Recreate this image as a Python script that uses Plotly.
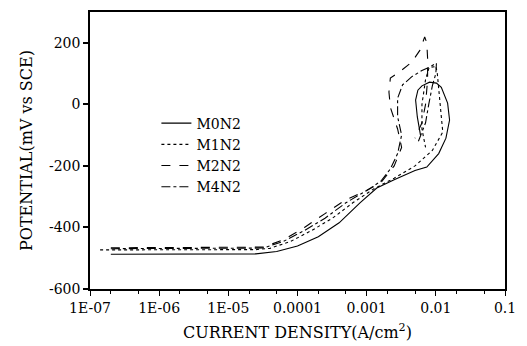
import plotly.graph_objects as go

# Potentiodynamic polarization curves (forward scan then reverse scan)
m0n2_current = [2.0e-7, 1.0e-6, 1.0e-5, 2.5e-5, 5.0e-5, 1.0e-4, 2.0e-4, 4.0e-4, 8.0e-4,
                1.4e-3, 2.5e-3, 5.0e-3, 7.4e-3, 1.1e-2, 1.4e-2, 1.58e-2, 1.48e-2,
                1.2e-2, 1.02e-2, 8.1e-3, 6.3e-3, 5.5e-3, 5.1e-3, 5.4e-3, 6.0e-3]
m0n2_potential = [-487, -487, -487, -486, -478, -460, -430, -385, -320,
                  -272, -245, -215, -204, -160, -110, -51, 4,
                  55, 69, 72, 60, 46, 14, -41, -100]

m1n2_current = [1.4e-7, 1.0e-6, 1.0e-5, 2.5e-5, 4.0e-5, 8.0e-5, 1.6e-4, 3.2e-4, 6.3e-4,
                1.26e-3, 2.5e-3, 5.0e-3, 8.9e-3, 1.26e-2, 1.2e-2, 1.12e-2, 1.05e-2,
                1.0e-2, 9.5e-3, 8.0e-3, 7.1e-3, 6.3e-3, 6.3e-3, 7.1e-3]
m1n2_potential = [-473, -473, -473, -472, -468, -445, -410, -370, -320,
                  -275, -240, -200, -150, -90, -40, 40, 100,
                  125, 122, 120, 80, 0, -80, -140]

m2n2_current = [2.0e-7, 1.0e-6, 1.0e-5, 3.2e-5, 6.3e-5, 1.26e-4, 2.5e-4, 5.0e-4, 1.0e-3,
                1.6e-3, 2.5e-3, 3.2e-3, 2.8e-3, 2.2e-3, 2.1e-3, 2.2e-3, 3.2e-3,
                4.5e-3, 5.9e-3, 6.9e-3, 7.4e-3, 7.6e-3, 7.6e-3, 7.1e-3, 6.3e-3, 5.0e-3]
m2n2_potential = [-466, -466, -466, -464, -440, -400, -355, -310, -280,
                  -255, -200, -140, -80, -10, 40, 85, 111,
                  137, 176, 219, 200, 150, 80, 0, -60, -110]

m4n2_current = [2.0e-7, 1.0e-6, 1.0e-5, 3.2e-5, 6.3e-5, 1.26e-4, 2.5e-4, 5.0e-4, 1.0e-3,
                1.6e-3, 2.2e-3, 2.8e-3, 3.2e-3, 2.8e-3, 2.8e-3, 3.3e-3, 4.5e-3,
                6.3e-3, 8.1e-3, 1.02e-2, 1.0e-2, 8.9e-3, 7.9e-3, 7.1e-3, 5.6e-3]
m4n2_potential = [-469, -469, -469, -467, -445, -410, -370, -320, -280,
                  -250, -210, -160, -100, -40, 20, 63, 90,
                  110, 121, 134, 100, 60, 0, -60, -120]

series_names = ["M0N2", "M1N2", "M2N2", "M4N2"]
dash_styles = ["solid", "dot", "dash", "dashdot"]

x_tick_values = [1e-7, 1e-6, 1e-5, 1e-4, 1e-3, 1e-2, 1e-1]
x_tick_labels = ["1E-07", "1E-06", "1E-05", "0.0001", "0.001", "0.01", "0.1"]
y_tick_values = [200, 0, -200, -400, -600]
y_tick_labels = ["200", "0", "-200", "-400", "-600"]

currents = [m0n2_current, m1n2_current, m2n2_current, m4n2_current]
potentials = [m0n2_potential, m1n2_potential, m2n2_potential, m4n2_potential]

font_family = "DejaVu Serif, Liberation Serif, serif"

fig = go.Figure()
for name, dash, xs, ys in zip(series_names, dash_styles, currents, potentials):
    fig.add_trace(go.Scatter(
        x=xs, y=ys, mode="lines", name=name,
        line=dict(color="black", width=1.1, dash=dash),
    ))

fig.update_layout(
    width=527, height=346,
    margin=dict(l=90, r=22, t=12, b=57),
    paper_bgcolor="white", plot_bgcolor="white",
    font=dict(family=font_family, size=14, color="black"),
    showlegend=True,
    legend=dict(
        x=0.16, y=0.655, xanchor="left", yanchor="top",
        bgcolor="rgba(0,0,0,0)", borderwidth=0,
        font=dict(family=font_family, size=14, color="black"),
        tracegroupgap=0, itemwidth=30,
    ),
)

fig.update_xaxes(
    type="log", range=[-7, -1], automargin=False,
    tickvals=x_tick_values, ticktext=x_tick_labels,
    ticks="outside", ticklen=5, tickwidth=1, tickcolor="black",
    minor=dict(ticks="outside", ticklen=3, tickcolor="black", showgrid=False),
    showline=True, linecolor="black", linewidth=1.5, mirror=True,
    showgrid=False, zeroline=False,
    tickfont=dict(family=font_family, size=14),
    title=dict(text="CURRENT DENSITY(A/cm<sup>2</sup>)", standoff=12,
               font=dict(family=font_family, size=16)),
)

fig.update_yaxes(
    range=[-600, 300], automargin=False,
    tickvals=y_tick_values, ticktext=y_tick_labels,
    ticks="outside", ticklen=5, tickwidth=1.5, tickcolor="black",
    showline=True, linecolor="black", linewidth=1.5, mirror=True,
    showgrid=False, zeroline=False,
    tickfont=dict(family=font_family, size=14),
    title=dict(text="POTENTIAL(mV vs SCE)", standoff=12,
               font=dict(family=font_family, size=16)),
)

fig.write_html("out.html")
